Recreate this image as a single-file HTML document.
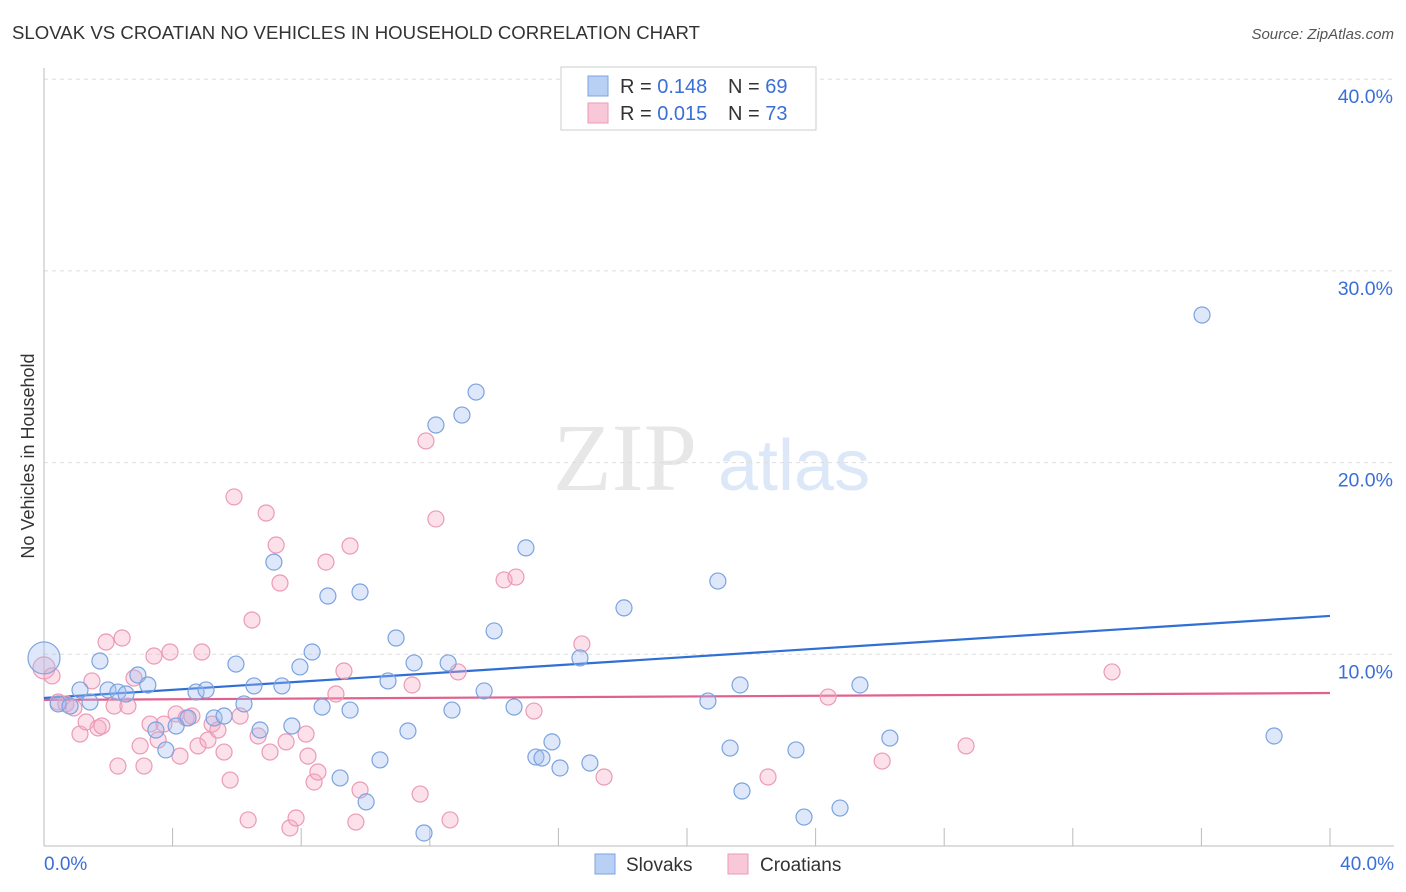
<!DOCTYPE html>
<html><head><meta charset="utf-8"><style>
body{margin:0;background:#fff;font-family:"Liberation Sans",sans-serif}
svg{display:block}
</style></head><body>
<svg id="chart" width="1406" height="892">
<text x="12" y="39" font-size="18.6" fill="#333" textLength="688">SLOVAK VS CROATIAN NO VEHICLES IN HOUSEHOLD CORRELATION CHART</text>
<text x="1394" y="39" font-size="15" fill="#555" text-anchor="end" font-style="italic">Source: ZipAtlas.com</text>
<text transform="translate(34,456) rotate(-90)" font-size="18" fill="#333" text-anchor="middle">No Vehicles in Household</text>
<g opacity="0.35">
<text x="553" y="490" font-family="Liberation Serif,serif" font-size="96" fill="#bbb">ZIP</text>
<text x="718" y="490" font-size="72" fill="#9cc0ec">atlas</text>
</g>
<g id="grid"></g><g id="axes"></g><g id="trend"></g><g id="pts"></g>
<g>
<rect x="561" y="67" width="255" height="63" fill="#fff" stroke="#ccc"/>
<rect x="588" y="76" width="20" height="20" fill="#b7d0f4" stroke="#7ba3e0"/>
<rect x="588" y="103" width="20" height="20" fill="#f8c8d8" stroke="#eb9ab5"/>
<text x="620" y="93" font-size="20" fill="#333">R = <tspan fill="#3a6fd8">0.148</tspan></text>
<text x="728" y="93" font-size="20" fill="#333">N = <tspan fill="#3a6fd8">69</tspan></text>
<text x="620" y="120" font-size="20" fill="#333">R = <tspan fill="#3a6fd8">0.015</tspan></text>
<text x="728" y="120" font-size="20" fill="#333">N = <tspan fill="#3a6fd8">73</tspan></text>
</g>
<g>
<rect x="595" y="854" width="20" height="20" fill="#b7d0f4" stroke="#7ba3e0"/>
<text x="626" y="871" font-size="19" fill="#333">Slovaks</text>
<rect x="728" y="854" width="20" height="20" fill="#f8c8d8" stroke="#eb9ab5"/>
<text x="760" y="871" font-size="19" fill="#333">Croatians</text>
</g>
</svg>
<script>
const yTicks=[10,20,30,40];
const xTickVals=[4,8,12,16,20,24,28,32,36,40];
const blueX=[0,0.44,0.81,1.12,1.43,1.74,1.99,2.30,2.55,2.92,3.23,3.48,3.79,4.11,4.48,4.73,5.04,5.29,5.60,5.97,6.22,6.53,6.72,7.15,7.40,7.71,7.96,8.34,8.65,8.83,9.52,9.83,10.02,9.21,10.45,10.70,10.95,11.32,11.51,11.82,12.19,12.57,12.69,13.00,13.44,13.69,14.00,14.62,14.99,15.30,15.49,15.80,16.05,16.67,16.98,18.04,20.65,20.96,21.34,21.65,21.71,23.39,23.64,24.76,25.38,26.31,36.02,38.26];
const blueY=[9.81,7.41,7.30,8.14,7.51,9.65,8.14,8.03,7.93,8.92,8.40,6.05,5.01,6.26,6.68,8.03,8.14,6.68,6.78,9.49,7.41,8.35,6.05,14.81,8.35,6.26,9.34,10.12,7.25,13.04,7.09,13.25,2.30,3.55,4.49,8.61,10.85,6.00,9.55,0.68,21.96,9.55,7.09,22.48,23.68,8.09,11.22,7.25,15.55,4.64,4.59,5.43,4.07,9.81,4.33,12.42,7.56,13.82,5.11,8.40,2.87,5.01,1.51,1.98,8.40,5.63,27.70,5.74];
const pinkX=[0,0.25,0.44,0.68,0.93,1.12,1.31,1.49,1.68,1.80,1.93,2.18,2.30,2.43,2.61,2.80,2.99,3.11,3.30,3.42,3.55,3.73,3.92,4.11,4.23,4.42,4.60,4.79,4.91,5.10,5.23,5.41,5.60,5.79,5.91,6.10,6.35,6.47,6.66,6.91,7.03,7.22,7.34,7.53,7.65,7.84,8.15,8.21,8.40,8.52,8.77,9.08,9.33,9.52,9.70,9.83,11.45,11.70,11.88,12.19,12.63,12.88,14.31,14.68,15.24,16.73,17.42,22.52,24.39,26.07,28.68,33.22];
const pinkY=[9.29,8.87,7.51,7.41,7.20,5.84,6.47,8.61,6.16,6.26,10.64,7.30,4.17,10.85,7.30,8.76,5.22,4.17,6.36,9.91,5.53,6.36,10.12,6.89,4.69,6.68,6.78,5.22,10.12,5.53,6.36,6.05,4.90,3.44,18.21,6.78,1.36,11.79,5.74,17.37,4.90,15.70,13.72,5.43,0.94,1.46,5.84,4.69,3.34,3.86,14.81,7.93,9.13,15.65,1.25,2.92,8.40,2.71,21.13,17.06,1.36,9.08,13.88,14.03,7.04,10.54,3.60,3.60,7.77,4.43,5.22,9.08];
const blueTrend=[7.72,12.0];
const pinkTrend=[7.62,7.98];
const NS="http://www.w3.org/2000/svg";
const X=v=>44+v*32.15, Y=v=>846-v*19.17;
function mk(p,t,a){const e=document.createElementNS(NS,t);for(const k in a)e.setAttribute(k,a[k]);document.getElementById(p).appendChild(e);return e;}
yTicks.forEach(t=>{
 const l=mk('grid','line',{x1:44,x2:1394,y1:Y(t),y2:Y(t),stroke:'#ddd','stroke-dasharray':'4,4'});
 
 
 const tx=mk('grid','text',{x:1393,y:Y(t)+24,'font-size':19.5,fill:'#3a6fd8','text-anchor':'end'});
 tx.textContent=t.toFixed(1)+'%';
 
 
});
const ya=mk('axes','line',{x1:44,x2:44,y1:68,y2:846,stroke:'#bbb'});


const xa=mk('axes','line',{x1:44,x2:1394,y1:846,y2:846,stroke:'#bbb'});


xTickVals.forEach(t=>{
 const l=mk('axes','line',{x1:X(t),x2:X(t),y1:828,y2:846,stroke:'#bbb'});
 
 
});
const x0=mk('axes','text',{x:44,y:870,'font-size':19,fill:'#3a6fd8'});x0.textContent='0.0%';


const x1=mk('axes','text',{x:1394,y:870,'font-size':19,fill:'#3a6fd8','text-anchor':'end'});x1.textContent='40.0%';


function pts(xs,ys,fill,stroke,name,big){xs.forEach((x,i)=>{
 const c=mk('pts','circle',{cx:X(x),cy:Y(ys[i]),r:i==0?big:8,fill:fill,stroke:stroke,'stroke-width':1.2});
 
 
});}
pts(pinkX,pinkY,'rgba(245,170,195,0.35)','#eb9ab5','croatian-point',11);
pts(blueX,blueY,'rgba(160,190,240,0.35)','#7ba3e0','slovak-point',16);
const bt=mk('trend','line',{x1:X(0),x2:X(40),y1:Y(blueTrend[0]),y2:Y(blueTrend[1]),stroke:'#2f6fd6','stroke-width':2.2});


const pt=mk('trend','line',{x1:X(0),x2:X(40),y1:Y(pinkTrend[0]),y2:Y(pinkTrend[1]),stroke:'#e0608e','stroke-width':2.2});


</script>
</body></html>
